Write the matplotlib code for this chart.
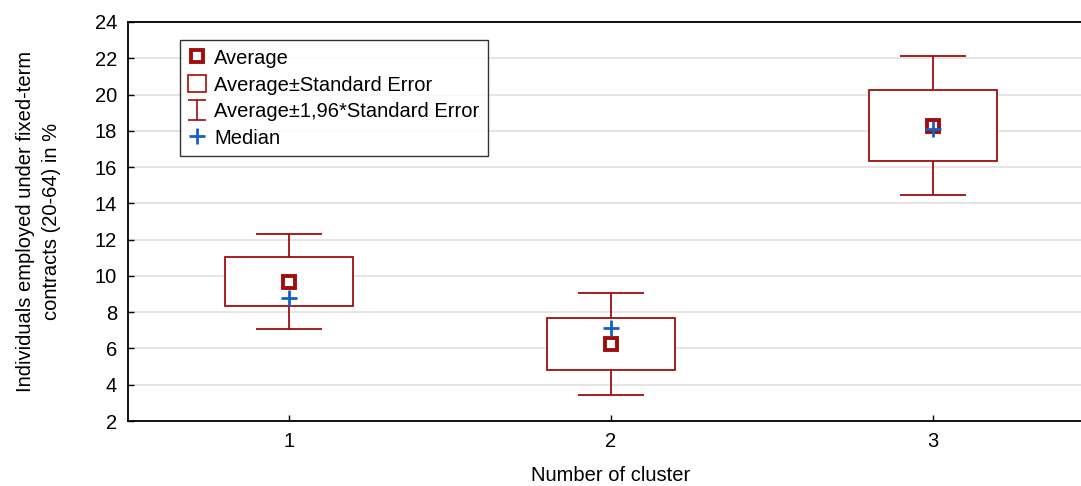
import matplotlib
matplotlib.use("Agg")
import matplotlib.pyplot as plt
from matplotlib.path import Path
from matplotlib.lines import Line2D
from matplotlib.patches import Rectangle
import numpy as np

plt.rcParams['font.family'] = ['Liberation Sans', 'DejaVu Sans']

# ---- data ----
clusters = [1, 2, 3]
means = [9.68, 6.25, 18.28]
std_errors = [1.34, 1.44, 1.96]
medians = [8.8, 7.11, 18.08]
y_ticks = [2, 4, 6, 8, 10, 12, 14, 16, 18, 20, 22, 24]
legend_labels = ["Average", "Average\u00b1Standard Error",
                 "Average\u00b11,96*Standard Error", "Median"]
x_label = "Number of cluster"
y_label = "Individuals employed under fixed-term\ncontracts (20-64) in %"

red = '#A00D0D'
blue = '#1460C8'
FS = 14.5

W, H = 1081, 486
fig = plt.figure(figsize=(W / 100, H / 100), dpi=100)
ax = fig.add_axes([128 / W, (H - 421) / H, (W - 128) / W, (421 - 22) / H])

x = np.array(clusters, dtype=float)
m = np.array(means)
se = np.array(std_errors)
box_w = 0.4
cap_w = 0.205

# whiskers
lo96 = m - 1.96 * se
hi96 = m + 1.96 * se
ax.vlines(x, lo96, hi96, color=red, lw=1.3, zorder=2)
ax.hlines(lo96, x - cap_w / 2, x + cap_w / 2, color=red, lw=1.3, zorder=2)
ax.hlines(hi96, x - cap_w / 2, x + cap_w / 2, color=red, lw=1.3, zorder=2)
# SE boxes
ax.bar(x, 2 * se, bottom=m - se, width=box_w, facecolor='white',
       edgecolor=red, linewidth=1.3, zorder=3)
# means
ax.plot(x, m, linestyle='none', marker='s', markersize=9.3, mfc='white',
        mec=red, mew=2.8, zorder=5)
# medians
ax.plot(x, medians, linestyle='none', marker='+', markersize=11,
        mec=blue, mew=2.0, zorder=6)

ax.set_xlim(0.5, 3.46)
ax.set_ylim(2, 24)
ax.set_yticks(y_ticks)
ax.set_xticks(clusters)
ax.set_xticklabels([str(c) for c in clusters])
ax.yaxis.grid(True, color='#E3E3E3', lw=1.3)
ax.set_axisbelow(True)
ax.tick_params(axis='both', direction='in', length=4, width=1, labelsize=FS,
               colors='black')
ax.tick_params(axis='y', pad=8)
ax.tick_params(axis='x', pad=8)
for s in ['left', 'bottom', 'top']:
    ax.spines[s].set_linewidth(1.3)
ax.spines['right'].set_visible(False)

ax.set_xlabel(x_label, fontsize=FS)
ax.xaxis.set_label_coords((611 - 128) / (W - 128), (421 - 466) / 399)
ax.set_ylabel(y_label, fontsize=FS, labelpad=24, linespacing=1.5)

# legend
ibeam = Path([(-0.42, 0.5), (0.42, 0.5), (0, 0.5), (0, -0.5), (-0.42, -0.5), (0.42, -0.5)],
             [Path.MOVETO, Path.LINETO, Path.MOVETO, Path.LINETO, Path.MOVETO, Path.LINETO])
handles = [
    Line2D([], [], linestyle='none', marker='s', markersize=9.3, mfc='white', mec=red, mew=2.8),
    Rectangle((0, 0), 1, 1, facecolor='white', edgecolor=red, linewidth=1.2),
    Line2D([], [], linestyle='none', marker=ibeam, markersize=15, mec=red, mew=1.2),
    Line2D([], [], linestyle='none', marker='+', markersize=11, mec=blue, mew=2.0),
]
leg = ax.legend(handles, legend_labels, loc='upper left',
                bbox_to_anchor=((180 - 128) / (W - 128), (421 - 40) / 399),
                borderaxespad=0, fancybox=False, frameon=True, fontsize=FS,
                handlelength=0.9, handleheight=0.95, handletextpad=0.4,
                labelspacing=0.36, borderpad=0.4)
leg.get_frame().set_edgecolor('black')
leg.get_frame().set_linewidth(1.0)

fig.savefig('out.png', dpi=100)
